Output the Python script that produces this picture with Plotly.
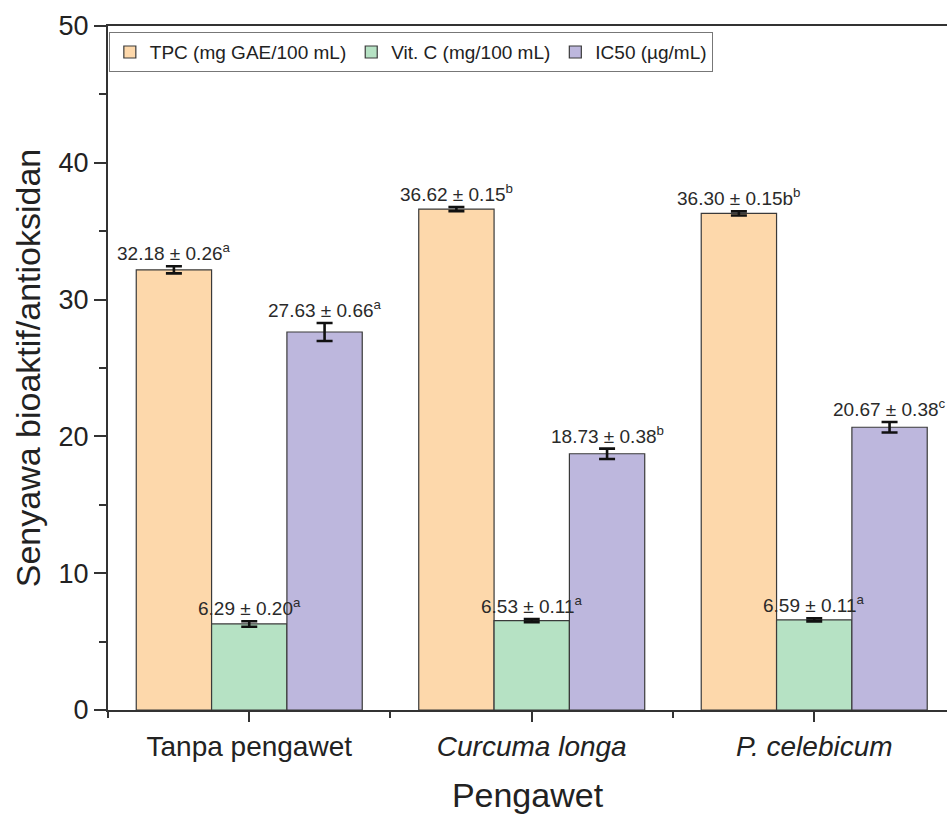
import plotly.graph_objects as go

# Treatments and measured values (mean ± SD) with significance letters
categories = ["Tanpa pengawet", "<i>Curcuma longa</i>", "<i>P. celebicum</i>"]
series_names = ["TPC (mg GAE/100 mL)", "Vit. C (mg/100 mL)", "IC50 (µg/mL)"]
tpc = [32.18, 36.62, 36.30]
tpc_sd = [0.26, 0.15, 0.15]
tpc_sig = ["a", "b", "b"]
tpc_suffix = ["", "", "b"]
vitc = [6.29, 6.53, 6.59]
vitc_sd = [0.20, 0.11, 0.11]
vitc_sig = ["a", "a", "a"]
ic50 = [27.63, 18.73, 20.67]
ic50_sd = [0.66, 0.38, 0.38]
ic50_sig = ["a", "b", "c"]

fill_colors = ["#FDD8AB", "#B6E2C4", "#BDB7DD"]
edge_color = "#3a3a3a"
font_family = "Liberation Sans, Arial, sans-serif"
text_color = "#222222"

x_pos = list(range(len(categories)))
group_width = 0.8
bar_w = group_width / 3

series = [
    (tpc, tpc_sd, tpc_sig, tpc_suffix),
    (vitc, vitc_sd, vitc_sig, ["", "", ""]),
    (ic50, ic50_sd, ic50_sig, ["", "", ""]),
]

fig = go.Figure()
annotations = []
for j, (vals, sds, sigs, sufs) in enumerate(series):
    offset = (j - 1) * bar_w
    fig.add_trace(go.Bar(
        x=x_pos, y=vals, name=series_names[j],
        width=bar_w, offset=offset - bar_w / 2,
        marker=dict(color=fill_colors[j], line=dict(color=edge_color, width=1.2)),
        error_y=dict(type="data", array=sds, visible=True,
                     color="#111111", thickness=2.6, width=8),
    ))
    for i, (v, s, g, suf) in enumerate(zip(vals, sds, sigs, sufs)):
        annotations.append(dict(
            x=x_pos[i] + offset, y=v + s, xref="x", yref="y",
            text=f"{v:.2f} ± {s:.2f}{suf}<sup>{g}</sup>",
            showarrow=False, yanchor="bottom", xanchor="center", yshift=0,
            font=dict(family=font_family, size=19, color="#2a2a2a"),
        ))

fig.update_layout(
    width=947, height=814,
    margin=dict(l=108, r=0, t=26, b=104),
    paper_bgcolor="white", plot_bgcolor="white",
    barmode="overlay",
    font=dict(family=font_family, color=text_color),
    annotations=annotations,
    showlegend=True,
    legend=dict(
        orientation="h", x=0.001, y=0.991, xanchor="left", yanchor="top",
        bordercolor="#777777", borderwidth=1, bgcolor="white",
        font=dict(family=font_family, size=19, color=text_color),
        itemwidth=30, tracegroupgap=0,
    ),
)

fig.update_xaxes(
    range=[-0.5, 2.47],
    tickmode="array", tickvals=x_pos, ticktext=categories,
    tickfont=dict(family=font_family, size=28, color=text_color),
    ticks="outside", ticklen=10, tickwidth=1.5, tickcolor="#333333",
    minor=dict(tickmode="array", tickvals=[-0.5, 0.5, 1.5, 2.5],
               ticks="outside", ticklen=6, tickwidth=1.5, tickcolor="#333333"),
    showline=True, linecolor="#333333", linewidth=2, mirror=True,
    showgrid=False, zeroline=False,
    title=dict(text="Pengawet", font=dict(family=font_family, size=34, color=text_color),
               standoff=24),
)
fig.update_yaxes(
    range=[0, 50], dtick=10,
    tickfont=dict(family=font_family, size=27, color=text_color),
    ticks="outside", ticklen=12, tickwidth=1.5, tickcolor="#333333",
    minor=dict(dtick=5, ticks="outside", ticklen=7, tickwidth=1.5, tickcolor="#333333"),
    showline=True, linecolor="#333333", linewidth=2,
    showgrid=False, zeroline=False,
    title=dict(text="Senyawa bioaktif/antioksidan",
               font=dict(family=font_family, size=34, color=text_color), standoff=8),
)

fig.write_html("out.html")
